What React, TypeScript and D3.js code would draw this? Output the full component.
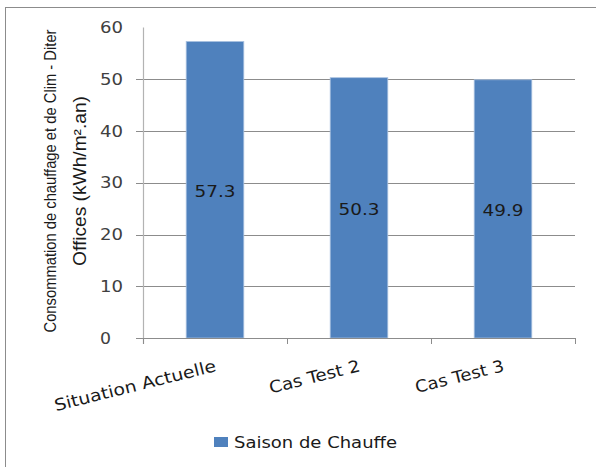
import React from 'react'
import * as d3 from 'd3'

const categories = ['Situation Actuelle', 'Cas Test 2', 'Cas Test 3']
const heatingValues = [57.3, 50.3, 49.9]
const yTicks = [0, 10, 20, 30, 40, 50, 60]
const seriesName = 'Saison de Chauffe'
const yTitleLines = ['Consommation de chauffage et de Clim  - Diter', 'Offices  (kWh/m².an)']

const W = 596
const H = 467
const plot = { left: 143, right: 575, top: 27.5, bottom: 338 }
const barColor = '#4F81BD'
const font = '"DejaVu Sans", Verdana, sans-serif'
const narrow = '"Liberation Sans", Arial, sans-serif'

// longueurs mesurées sur l'image (texte étiré par Excel)
const catLabelLength = [166, 93, 91]

const App: React.FC = () => {
  const x = d3.scaleBand<string>()
    .domain(categories)
    .range([plot.left, plot.right])
    .padding(0)

  const y = d3.scaleLinear()
    .domain([0, 60])
    .range([plot.bottom, plot.top])

  const barW = x.bandwidth() * 0.4

  return (
    <svg width={W} height={H} style={{ position: 'absolute', left: 0, top: 0 }}>
      <rect x={0} y={0} width={W} height={H} fill="#fff" />
      {/* cadre */}
      <line x1={5} y1={7.5} x2={W} y2={7.5} stroke="#8c8c8c" strokeWidth={1} />
      <line x1={5.5} y1={7} x2={5.5} y2={H} stroke="#8c8c8c" strokeWidth={1} />

      {/* grille et graduations */}
      {yTicks.map(t => (
        <g key={t}>
          {t > 0 && t < 60 && (
            <line x1={136} x2={plot.right} y1={Math.round(y(t)) + 0.5} y2={Math.round(y(t)) + 0.5}
              stroke="#8c8c8c" strokeWidth={1} />
          )}
          {t === 0 && (
            <line x1={136} x2={plot.left} y1={Math.round(y(t)) + 0.5} y2={Math.round(y(t)) + 0.5}
              stroke="#8c8c8c" strokeWidth={1} />
          )}
          <text x={100} y={y(t) + 5.5} textAnchor="start" fontFamily={font} fontSize={15} fill="#404040"
            textLength={t === 0 ? 11 : 23} lengthAdjust="spacingAndGlyphs">
            {t}
          </text>
        </g>
      ))}

      {/* barres */}
      {categories.map((c, i) => {
        const cx = (x(c) as number) + x.bandwidth() / 2
        const top = y(heatingValues[i])
        return (
          <g key={c}>
            <rect x={cx - barW / 2} y={top} width={barW} height={plot.bottom - top}
              fill={barColor} stroke="#a9c1e0" strokeWidth={0.8} />
            <text x={cx} y={(top + plot.bottom) / 2 + 7} textAnchor="middle"
              fontFamily={font} fontSize={15.5} fill="#1a1a1a"
              textLength={41} lengthAdjust="spacingAndGlyphs">
              {heatingValues[i].toFixed(1)}
            </text>
          </g>
        )
      })}

      {/* axes */}
      <line x1={plot.left + 0.5} x2={plot.left + 0.5} y1={plot.top} y2={plot.bottom + 6}
        stroke="#b3b3b3" strokeWidth={1.2} />
      <line x1={plot.left} x2={plot.right} y1={Math.round(plot.bottom) + 0.5} y2={Math.round(plot.bottom) + 0.5}
        stroke="#8c8c8c" strokeWidth={1} />
      {[...categories.map(c => x(c) as number), plot.right].map((tx, i) => (
        <line key={i} x1={tx + 0.5} x2={tx + 0.5} y1={plot.bottom} y2={plot.bottom + 6}
          stroke="#8c8c8c" strokeWidth={1} />
      ))}

      {/* étiquettes des catégories */}
      {categories.map((c, i) => {
        const cx = (x(c) as number) + x.bandwidth() / 2
        return (
          <text key={c} transform={`translate(${cx + 2},${plot.bottom + 33}) rotate(-14)`}
            textAnchor="end" fontFamily={font} fontSize={16.5} fill="#1a1a1a"
            textLength={catLabelLength[i]} lengthAdjust="spacingAndGlyphs">
            {c}
          </text>
        )
      })}

      {/* titre axe Y */}
      <g transform="translate(0,181) rotate(-90)">
        <text x={0} y={56} textAnchor="middle" fontFamily={narrow}
          fontSize={16.5} fill="#1a1a1a" textLength={303} lengthAdjust="spacingAndGlyphs">
          {yTitleLines[0]}
        </text>
        <text x={0} y={86} textAnchor="middle" fontFamily={narrow}
          fontSize={18} fill="#1a1a1a" textLength={170} lengthAdjust="spacingAndGlyphs">
          {yTitleLines[1]}
        </text>
      </g>

      {/* légende */}
      <rect x={214} y={437} width={14} height={10} fill={barColor} />
      <text x={234} y={447.5} fontFamily={font} fontSize={16} fill="#1a1a1a"
        textLength={163} lengthAdjust="spacingAndGlyphs">
        {seriesName}
      </text>
    </svg>
  )
}

export default App
